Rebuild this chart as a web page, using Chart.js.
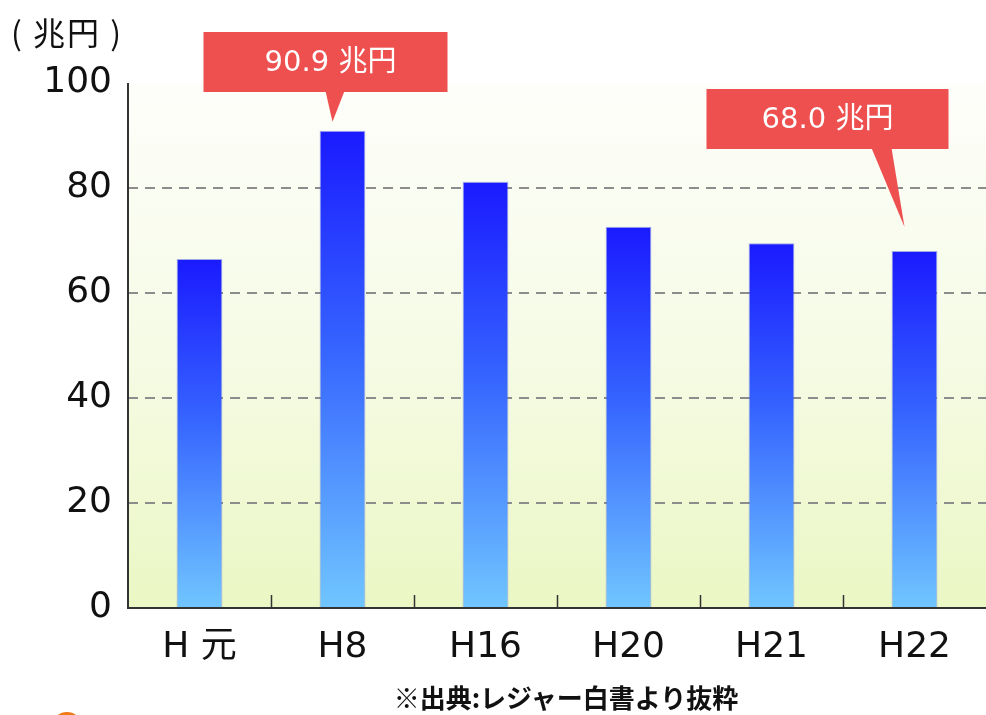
<!DOCTYPE html>
<html>
<head>
<meta charset="utf-8">
<script src="https://cdn.jsdelivr.net/npm/chart.js@4.4.1/dist/chart.umd.min.js"></script>
<style>
	body { margin: 0; background: #fff; }
	#wrap { position: relative; width: 986px; height: 715px; overflow: hidden; }
	#unit { position: absolute; left: 11px; top: 8px; line-height: 1; font: 32px "Noto Sans CJK JP", sans-serif; letter-spacing: 2px; color: #111; white-space: pre; }
	#source { position: absolute; left: 0; width: 1132px; top: 678px; line-height: 1; text-align: center; font: bold 26px "Noto Sans CJK JP", sans-serif; color: #111; }
	#dot { position: absolute; left: 52px; top: 712px; width: 30px; height: 30px; border-radius: 50%; background: #f07a1a; }
</style>
</head>
<body>
<div id="wrap">
	<canvas id="marketChart"></canvas>
	<div id="unit">( 兆円 )</div>
	<div id="source">※出典:レジャー白書より抜粋</div>
	<div id="dot"></div>
</div>
<script>
// data
var categories = ["H 元", "H8", "H16", "H20", "H21", "H22"];
var marketSize = [66.5, 90.9, 81.2, 72.6, 69.5, 68.0];
var yTicks = [0, 20, 40, 60, 80, 100];
var calloutIndex = [1, 5];
var calloutText = ["90.9 兆円", "68.0 兆円"];

// callout shapes, relative to the bar they point at
var calloutShape = [
	{ dx: -17, top: 32, w: 244, h: 60, base: [-17, 2], tipDy: -9, textDx: 5 },
	{ dx: -87, top: 89, w: 242, h: 60, base: [-43, -23], tipDy: -24, textDx: 0 }
];

var canvas = document.getElementById("marketChart");
canvas.width = 986;
canvas.height = 715;

var barGradient = function(context) {
	var chart = context.chart;
	if (!chart.chartArea || context.type !== "data") return "#3050ff";
	var y = chart.scales.y;
	var top = y.getPixelForValue(context.parsed.y);
	var bottom = y.getPixelForValue(0);
	var g = chart.ctx.createLinearGradient(0, top, 0, bottom);
	g.addColorStop(0, "#1a1aff");
	g.addColorStop(0.45, "#3563ff");
	g.addColorStop(1, "#70c6ff");
	return g;
};

var areaPlugin = {
	id: "areaPlugin",
	beforeDraw: function(chart) {
		var ctx = chart.ctx, a = chart.chartArea;
		ctx.save();
		ctx.fillStyle = "#ffffff";
		ctx.fillRect(0, 0, chart.width, chart.height);
		var g = ctx.createLinearGradient(0, a.top, 0, a.bottom);
		g.addColorStop(0, "#fdfefa");
		g.addColorStop(0.5, "#f6fbe6");
		g.addColorStop(1, "#ebf7c4");
		ctx.fillStyle = g;
		ctx.fillRect(a.left, a.top, a.right - a.left, a.bottom - a.top);
		ctx.restore();
	},
	afterDatasetsDraw: function(chart) {
		var ctx = chart.ctx, a = chart.chartArea, x = chart.scales.x;
		ctx.save();
		ctx.strokeStyle = "#333";
		ctx.lineWidth = 2;
		ctx.beginPath();
		ctx.moveTo(a.left, a.top);
		ctx.lineTo(a.left, a.bottom);
		ctx.lineTo(a.right, a.bottom);
		ctx.stroke();

		// small inward ticks between categories
		ctx.lineWidth = 1.5;
		for (var i = 0; i < categories.length - 1; i++) {
			var tx = Math.round((x.getPixelForTick(i) + x.getPixelForTick(i + 1)) / 2) + 0.5;
			ctx.beginPath();
			ctx.moveTo(tx, a.bottom);
			ctx.lineTo(tx, a.bottom - 13);
			ctx.stroke();
		}

		// red callouts
		var meta = chart.getDatasetMeta(0);
		for (var c = 0; c < calloutIndex.length; c++) {
			var bar = meta.data[calloutIndex[c]];
			var s = calloutShape[c];
			var cx = bar.x + s.dx;
			var left = cx - s.w / 2;
			ctx.fillStyle = "#ee4f4f";
			ctx.fillRect(left, s.top, s.w, s.h);
			ctx.beginPath();
			ctx.moveTo(bar.x + s.base[0], s.top + s.h - 1);
			ctx.lineTo(bar.x + s.base[1], s.top + s.h - 1);
			ctx.lineTo(bar.x - 10, bar.y + s.tipDy);
			ctx.closePath();
			ctx.fill();
			ctx.fillStyle = "#ffffff";
			ctx.font = "29px 'DejaVu Sans', 'Noto Sans CJK JP'";
			ctx.textAlign = "center";
			ctx.textBaseline = "middle";
			ctx.fillText(calloutText[c], cx + s.textDx, s.top + s.h / 2 + 1);
		}
		ctx.restore();
	}
};

var marketChart = new Chart(canvas.getContext("2d"), {
	type: "bar",
	data: {
		labels: categories,
		datasets: [{
			data: marketSize,
			backgroundColor: barGradient,
			borderColor: "rgba(70, 90, 220, 0.5)",
			borderWidth: 1,
			barPercentage: 0.32,
			categoryPercentage: 1
		}]
	},
	options: {
		responsive: false,
		animation: false,
		layout: { padding: { top: 83, right: 0, left: 0, bottom: 0 } },
		plugins: {
			legend: { display: false },
			tooltip: { enabled: false }
		},
		scales: {
			x: {
				offset: true,
				grid: { display: false },
				border: { display: false },
				ticks: {
					color: "#111",
					padding: 10,
					maxRotation: 0,
					font: { family: "'DejaVu Sans', 'Noto Sans CJK JP'", size: 36 }
				},
				afterFit: function(scale) { scale.height = 107; }
			},
			y: {
				min: 0,
				max: 100,
				afterBuildTicks: function(scale) {
					scale.ticks = yTicks.map(function(v) { return { value: v }; });
				},
				grid: {
					drawTicks: false,
					lineWidth: 2,
					color: function(context) {
						var v = context.tick ? context.tick.value : 0;
						return (v === 0 || v === 100) ? "rgba(0,0,0,0)" : "#8c8c8c";
					}
				},
				border: { display: false, dash: [10, 7] },
				ticks: {
					color: "#111",
					padding: 16,
					font: { family: "'DejaVu Sans'", size: 36 }
				},
				afterFit: function(scale) { scale.width = 128; }
			}
		}
	},
	plugins: [areaPlugin]
});
</script>
</body>
</html>
